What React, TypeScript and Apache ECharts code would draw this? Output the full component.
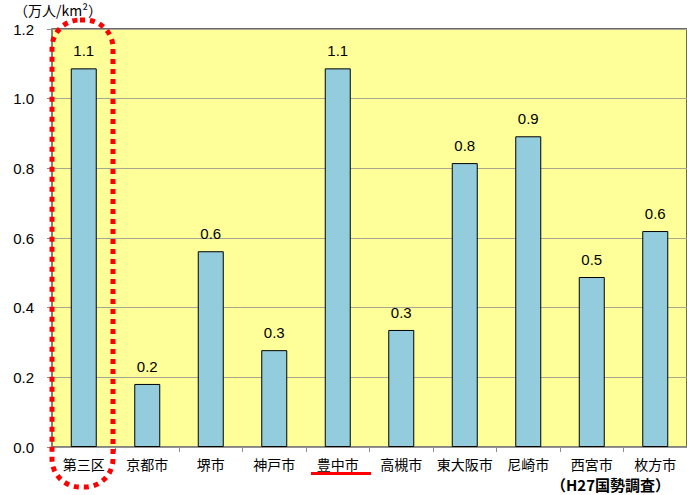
import React, { useEffect, useRef } from "react";
import * as echarts from "echarts";

const categories = ["第三区", "京都市", "堺市", "神戸市", "豊中市", "高槻市", "東大阪市", "尼崎市", "西宮市", "枚方市"];
const densities = [1.087, 0.181, 0.562, 0.278, 1.087, 0.336, 0.815, 0.892, 0.488, 0.62];
const yTicks = { min: 0, max: 1.2, interval: 0.2 };
const unitLabel = "（万人/km²）";
const sourceLabel = "（H27国勢調査）";

const FONT = "'Liberation Sans', Arial, 'Noto Sans CJK JP', sans-serif";

export default function App() {
  const ref = useRef<HTMLDivElement>(null);
  useEffect(() => {
    if (!ref.current) return;
    const chart = echarts.init(ref.current, undefined, { renderer: "svg" });
    chart.setOption({
      animation: false,
      backgroundColor: "#ffffff",
      textStyle: { fontFamily: FONT },
      grid: {
        left: 52,
        top: 29,
        right: -12,
        bottom: 48,
        show: true,
        backgroundColor: "#FFFF99",
        borderColor: "#3a3a3a",
        borderWidth: 1.5,
      },
      xAxis: {
        type: "category",
        data: categories,
        axisLine: { lineStyle: { color: "#8c8c8c", width: 1.5 } },
        axisTick: { show: true, alignWithLabel: false, length: 5, lineStyle: { color: "#8c8c8c" } },
        axisLabel: {
          interval: 0,
          color: "#000",
          fontSize: 14,
          margin: 10,
          fontFamily: "'Noto Sans CJK JP', sans-serif",
        },
      },
      yAxis: {
        type: "value",
        min: yTicks.min,
        max: yTicks.max,
        interval: yTicks.interval,
        axisLine: { show: true, lineStyle: { color: "#8c8c8c", width: 1.5 } },
        axisTick: { show: true, length: 5, lineStyle: { color: "#8c8c8c" } },
        axisLabel: {
          color: "#000",
          fontSize: 15,
          margin: 18,
          formatter: (v: number) => v.toFixed(1),
        },
        splitLine: { show: true, lineStyle: { color: "#a8a890", width: 1 } },
      },
      series: [
        {
          type: "bar",
          data: densities,
          barWidth: 26,
          itemStyle: { color: "#93CDDD", borderColor: "#000", borderWidth: 1 },
          label: {
            show: true,
            position: "top",
            distance: 10,
            color: "#000",
            fontSize: 15,
            formatter: (p: any) => Number(p.value).toFixed(1),
          },
        },
      ],
      graphic: [
        {
          type: "text",
          left: 14,
          top: 3,
          style: { text: unitLabel, fontSize: 14, fill: "#000", fontFamily: "'Noto Sans CJK JP', sans-serif" },
        },
        {
          type: "text",
          x: 670,
          y: 484,
          style: {
            text: sourceLabel,
            fontSize: 15,
            fontWeight: "bold",
            fill: "#000",
            textAlign: "right",
            textVerticalAlign: "middle",
            fontFamily: "'Noto Sans CJK JP', sans-serif",
          },
        },
        {
          type: "rect",
          z: 100,
          shape: { x: 52, y: 20, width: 61, height: 467, r: 28 },
          style: { fill: "none", stroke: "#FF0000", lineWidth: 5, lineDash: [5, 5] },
        },
        {
          type: "line",
          z: 100,
          shape: { x1: 311, y1: 473.5, x2: 371, y2: 473.5 },
          style: { stroke: "#FF0000", lineWidth: 3 },
        },
      ],
    });
    return () => chart.dispose();
  }, []);
  return <div ref={ref} style={{ position: "absolute", left: 0, top: 0, width: 687, height: 495 }} />;
}
